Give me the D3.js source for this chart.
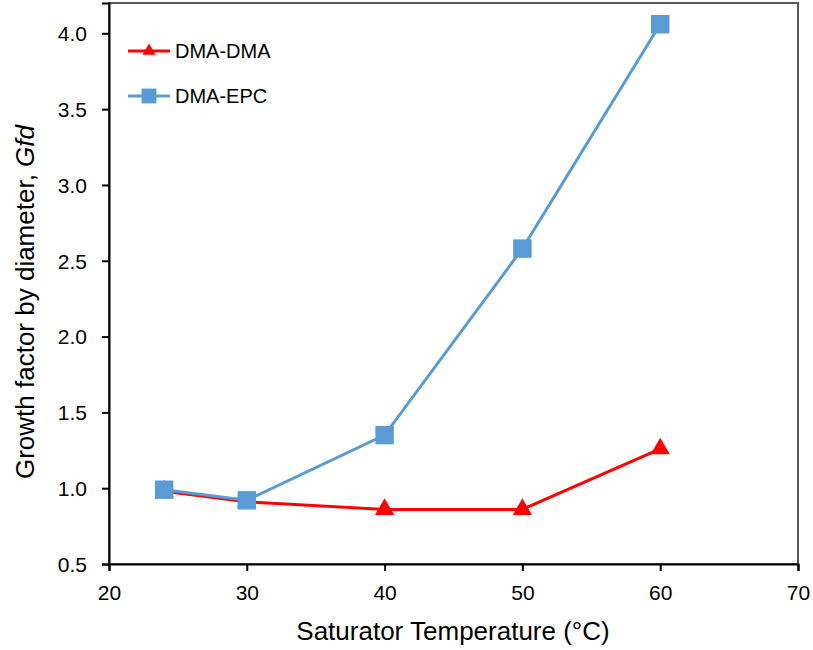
<!DOCTYPE html>
<meta charset="utf-8">
<style>
body { margin: 0; background: #fff; }
text { font-family: "Liberation Sans", Arial, sans-serif; fill: #000; }
.tick text { font-size: 21px; }
</style>
<svg width="813" height="650"></svg>
<script src="https://d3js.org/d3.v7.min.js"></script>
<script>

let temps = [24, 30, 40, 50, 60];
let dmaDma = [0.98, 0.91, 0.86, 0.86, 1.26];
let dmaEpc = [0.99, 0.92, 1.35, 2.58, 4.06];
let xTicks = [20, 30, 40, 50, 60, 70];
let yTicks = [0.5, 1.0, 1.5, 2.0, 2.5, 3.0, 3.5, 4.0];

let svg = d3.select('svg');
let mLeft = 109, mRight = 798, mTop = 3, mBottom = 564;

let x = d3.scaleLinear().domain([20, 70]).range([mLeft, mRight]);
let y = d3.scaleLinear().domain([0.5, 4.2]).range([mBottom, mTop]);

// frame (top & right)
svg.append('rect')
    .attr('x', mLeft).attr('y', mTop)
    .attr('width', mRight - mLeft).attr('height', mBottom - mTop)
    .attr('fill', 'none').attr('stroke', '#595959').attr('stroke-width', 2);

let xAxis = svg.append('g')
    .attr('transform', 'translate(0,' + mBottom + ')')
    .call(d3.axisBottom(x).tickValues(xTicks).tickSize(7).tickPadding(14).tickFormat(d3.format('d')));
let yAxis = svg.append('g')
    .attr('transform', 'translate(' + mLeft + ',0)')
    .call(d3.axisLeft(y).tickValues(yTicks).tickSize(7).tickPadding(15).tickFormat(d3.format('.1f')));

[xAxis, yAxis].forEach(a => {
  a.select('.domain').attr('stroke', '#000').attr('stroke-width', 2);
  a.selectAll('.tick line').attr('stroke', '#000').attr('stroke-width', 2);
  a.selectAll('.tick text').attr('fill', '#000');
});
yAxis.selectAll('.tick text').attr('dy', '0.35em');

let line = d3.line().x((d, i) => x(temps[i])).y(d => y(d));

let series = [
  { name: 'DMA-DMA', values: dmaDma, color: '#ff0000', symbol: d3.symbolTriangle, size: 160, legSize: 75 },
  { name: 'DMA-EPC', values: dmaEpc, color: '#5b9bd5', symbol: d3.symbolSquare, size: 340, legSize: 220 }
];

series.forEach(s => {
  svg.append('path')
      .attr('d', line(s.values))
      .attr('fill', 'none')
      .attr('stroke', s.color)
      .attr('stroke-width', 3);
});
series.forEach(s => {
  svg.selectAll(null)
    .data(s.values)
    .enter().append('path')
      .attr('transform', (d, i) => 'translate(' + x(temps[i]) + ',' + y(d) + ')')
      .attr('d', d3.symbol().type(s.symbol).size(s.size))
      .attr('fill', s.color);
});

// legend
let legend = svg.append('g');
series.forEach((s, i) => {
  let ly = 51 + i * 45;
  legend.append('line')
      .attr('x1', 128).attr('x2', 170).attr('y1', ly).attr('y2', ly)
      .attr('stroke', s.color).attr('stroke-width', 3);
  legend.append('path')
      .attr('transform', 'translate(149,' + ly + ')')
      .attr('d', d3.symbol().type(s.symbol).size(s.legSize))
      .attr('fill', s.color);
  legend.append('text')
      .attr('x', 175).attr('y', ly).attr('dy', '0.35em')
      .style('font-size', '20px')
      .text(s.name);
});

// axis titles
svg.append('text')
    .attr('x', 453).attr('y', 640)
    .attr('text-anchor', 'middle')
    .style('font-size', '26px')
    .text('Saturator Temperature (°C)');

let yt = svg.append('text')
    .attr('transform', 'translate(34,302) rotate(-90)')
    .attr('text-anchor', 'middle')
    .style('font-size', '26px');
yt.append('tspan').text('Growth factor by diameter, ');
yt.append('tspan').style('font-style', 'italic').text('Gfd');

</script>
